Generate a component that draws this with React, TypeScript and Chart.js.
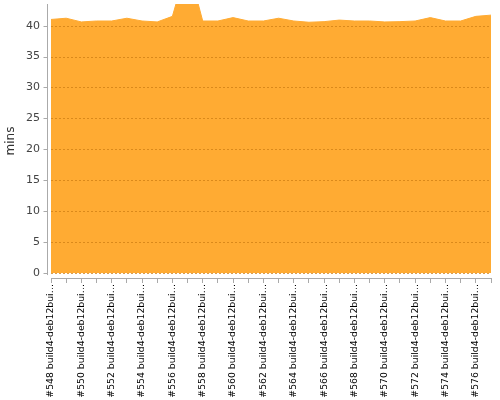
import React, { useEffect, useRef } from "react";
import { Chart, registerables } from "chart.js";

Chart.register(...registerables);

const categories: string[] = [
  "#548 build4-deb12bui…", "#549 build4-deb12bui…", "#550 build4-deb12bui…", "#551 build4-deb12bui…",
  "#552 build4-deb12bui…", "#553 build4-deb12bui…", "#554 build4-deb12bui…", "#555 build4-deb12bui…",
  "#556 build4-deb12bui…", "#557 build4-deb12bui…", "#558 build4-deb12bui…", "#559 build4-deb12bui…",
  "#560 build4-deb12bui…", "#561 build4-deb12bui…", "#562 build4-deb12bui…", "#563 build4-deb12bui…",
  "#564 build4-deb12bui…", "#565 build4-deb12bui…", "#566 build4-deb12bui…", "#567 build4-deb12bui…",
  "#568 build4-deb12bui…", "#569 build4-deb12bui…", "#570 build4-deb12bui…", "#571 build4-deb12bui…",
  "#572 build4-deb12bui…", "#573 build4-deb12bui…", "#574 build4-deb12bui…", "#575 build4-deb12bui…",
  "#576 build4-deb12bui…", "#577 build4-deb12bui…",
];

const durationMins: number[] = [
  41.0, 41.2, 40.6, 40.75, 40.75, 41.2, 40.75, 40.6, 41.5, 50.0,
  40.75, 40.75, 41.3, 40.75, 40.75, 41.2, 40.75, 40.55, 40.65, 40.9,
  40.75, 40.75, 40.6, 40.65, 40.75, 41.3, 40.75, 40.75, 41.5, 41.7,
];

const yTitle = "mins";
const yStep = 5;
const yMin = -0.8;
const yMax = 43.5;

const axisColor = "#aaaaaa";
const gridColor = "rgba(205, 125, 20, 0.75)";

const axisPlugin = {
  id: "offsetYAxis",
  afterDatasetsDraw(chart: any) {
    const { ctx, chartArea, scales } = chart;
    const y = scales.y;
    ctx.save();
    // dashed horizontal grid over the area
    ctx.strokeStyle = gridColor;
    ctx.lineWidth = 1;
    ctx.setLineDash([2, 2]);
    ctx.beginPath();
    y.ticks.forEach((t: any) => {
      const py = Math.round(y.getPixelForValue(t.value)) + 0.5;
      ctx.moveTo(chartArea.left, py);
      ctx.lineTo(chartArea.right, py);
    });
    ctx.stroke();
    ctx.setLineDash([]);
    // offset y axis line with tick marks
    const x0 = Math.round(chartArea.left - 4) + 0.5;
    ctx.strokeStyle = axisColor;
    ctx.beginPath();
    ctx.moveTo(x0, chartArea.top);
    ctx.lineTo(x0, y.getPixelForValue(0) + 2);
    y.ticks.forEach((t: any) => {
      const py = Math.round(y.getPixelForValue(t.value)) + 0.5;
      ctx.moveTo(x0 - 4, py);
      ctx.lineTo(x0, py);
    });
    ctx.stroke();
    ctx.restore();
  },
};

export default function App() {
  const ref = useRef<HTMLCanvasElement | null>(null);
  useEffect(() => {
    document.body.style.margin = "0";
    if (!ref.current) return;
    const chart = new Chart(ref.current, {
      type: "line",
      data: {
        labels: categories,
        datasets: [
          {
            data: durationMins,
            fill: "origin",
            backgroundColor: "#FFAB33",
            borderColor: "#FFAB33",
            borderWidth: 1,
            pointRadius: 0,
            tension: 0,
          },
        ],
      },
      options: {
        animation: false,
        responsive: false,
        maintainAspectRatio: false,
        layout: { padding: { top: 4, right: 9, left: 0, bottom: 0 } },
        plugins: {
          legend: { display: false },
          tooltip: { enabled: false },
        },
        scales: {
          x: {
            type: "category",
            offset: false,
            afterFit(scale: any) {
              scale.height = 122;
              scale.paddingLeft = 0;
              scale.paddingRight = 0;
              scale.paddingTop = 0;
              scale.paddingBottom = 0;
            },
            border: { display: true, color: axisColor },
            grid: {
              display: true,
              drawOnChartArea: false,
              drawTicks: true,
              tickLength: 5,
              color: axisColor,
            },
            ticks: {
              autoSkip: false,
              minRotation: 90,
              maxRotation: 90,
              padding: 1,
              color: "#000000",
              font: { family: "DejaVu Sans", size: 9.3 },
              callback: (_v: any, i: number) => (i % 2 === 0 ? categories[i] : ""),
            },
          },
          y: {
            type: "linear",
            min: yMin,
            max: yMax,
            afterFit(scale: any) {
              scale.width = 51;
              scale.paddingTop = 0;
              scale.paddingBottom = 0;
              scale.paddingLeft = 0;
              scale.paddingRight = 0;
            },
            border: { display: false },
            grid: {
              display: false,
              drawTicks: false,
            },
            ticks: {
              stepSize: yStep,
              includeBounds: false,
              padding: 11,
              color: "#444444",
              font: { family: "DejaVu Sans", size: 11 },
            },
            title: {
              display: true,
              text: yTitle,
              color: "#333333",
              font: { family: "DejaVu Sans", size: 12 },
              padding: { top: 4, bottom: 0 },
            },
          },
        },
      },
      plugins: [axisPlugin],
    } as any);
    return () => chart.destroy();
  }, []);
  return (
    <div style={{ width: 500, height: 400 }}>
      <canvas ref={ref} width={500} height={400} style={{ width: 500, height: 400 }} />
    </div>
  );
}
